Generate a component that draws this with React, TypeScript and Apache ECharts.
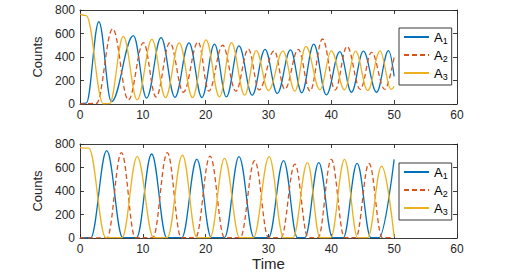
import React, { useEffect, useRef } from 'react';
import * as echarts from 'echarts';

// ---- data (extrema of each oscillation) ----
const seriesNames = ['A1', 'A2', 'A3'];
const xMin = 0;
const xMax = 60;
const xStep = 10;
const yMin = 0;
const yMax = 800;
const yStep = 200;

// Top panel
const topA1: [number, number][] = [
  [0, 3], [1.0, 8], [3.0, 700], [5.0, 20], [8.5, 582], [10.6, 50], [12.9, 565],
  [15.1, 57], [17.35, 520], [19.4, 55], [21.4, 510], [23.3, 60], [25.3, 495],
  [27.4, 75], [29.45, 465], [31.4, 90], [33.5, 460], [35.3, 95], [37.2, 510],
  [39.2, 78], [41.35, 445], [43.2, 100], [45.1, 450], [47.2, 100], [49.1, 455],
  [50, 235],
];
const topA2: [number, number][] = [
  [0, 0], [2.6, 5], [5.2, 640], [7.7, 34], [10.1, 522], [12.1, 60], [14.3, 522],
  [16.45, 100], [18.8, 528], [20.5, 110], [22.7, 500], [24.8, 110], [26.8, 468],
  [28.5, 120], [30.9, 452], [32.6, 125], [34.75, 465], [36.6, 110], [38.6, 553],
  [40.6, 120], [42.5, 490], [44.6, 125], [46.4, 440], [48.5, 125], [50, 400],
];
const topA3: [number, number][] = [
  [0, 765], [1.0, 752], [3.7, 2], [4.7, 3], [6.9, 575], [9.1, 35], [11.45, 550],
  [13.6, 55], [15.8, 520], [17.9, 55], [20.05, 545], [22.2, 60], [24.1, 522],
  [26.2, 75], [28.05, 455], [30.0, 115], [32.3, 450], [34.2, 110], [35.95, 490],
  [38.2, 120], [40.0, 452], [42.1, 120], [43.85, 450], [45.8, 115], [47.75, 452],
  [49.5, 125], [50, 150],
];

// Bottom panel
const botA1: [number, number][] = [
  [0, 0], [1.7, 2], [4.25, 743], [6.8, 3], [9.0, 3], [11.4, 715], [13.8, 3],
  [16.2, 3], [18.6, 670], [20.9, 3], [23.0, 3], [25.3, 692], [27.7, 3], [30.0, 3],
  [32.4, 658], [34.6, 3], [35.8, 3], [38.0, 641], [40.2, 3], [41.9, 3], [44.1, 635],
  [46.3, 3], [47.6, 3], [50, 669],
];
const botA2: [number, number][] = [
  [0, 0], [4.3, 2], [6.6, 726], [8.8, 3], [11.6, 3], [13.9, 726], [16.1, 3],
  [18.4, 3], [20.7, 697], [23.0, 3], [25.5, 3], [27.8, 658], [30.0, 3], [32.0, 3],
  [34.2, 629], [36.3, 3], [37.9, 3], [40.0, 669], [42.1, 3], [43.9, 3], [46.0, 635],
  [48.1, 3], [50, 3],
];
const botA3: [number, number][] = [
  [0, 770], [1.4, 765], [4.1, 3], [6.7, 3], [9.1, 692], [11.7, 3], [13.9, 3],
  [16.3, 706], [18.6, 3], [20.7, 3], [23.0, 678], [25.4, 3], [27.6, 3], [30.1, 692],
  [32.4, 3], [33.9, 3], [36.2, 641], [38.2, 3], [39.9, 3], [42.1, 669], [44.2, 3],
  [45.8, 3], [48.0, 612], [50, 10],
];

const colors = ['#0072BD', '#D95319', '#EDB120'];
const lineTypes: any[] = ['solid', [5, 3], 'solid'];
const FONT = '"Liberation Sans", Arial, Helvetica, sans-serif';
const AX = '#262626';

export default function App() {
  const ref = useRef<HTMLDivElement>(null);

  useEffect(() => {
    document.body.style.margin = '0';
    if (!ref.current) return;
    const chart = echarts.init(ref.current, undefined, { renderer: 'svg' });

    const axisLine = { show: true, onZero: false, lineStyle: { color: AX, width: 0.9 } };
    const axisTick = { show: true, inside: true, length: 4, lineStyle: { color: AX, width: 0.9 } };

    const mkX = (grid: number, pos: 'bottom' | 'top', labels: boolean, name?: string) => ({
      type: 'value',
      gridIndex: grid,
      position: pos,
      min: xMin,
      max: xMax,
      interval: xStep,
      axisLine,
      axisTick,
      splitLine: { show: false },
      axisLabel: { show: labels, color: AX, fontSize: 12, fontFamily: FONT, margin: 5 },
      name: name,
      nameLocation: 'middle',
      nameGap: 18,
      nameTextStyle: { color: AX, fontSize: 15, fontFamily: FONT },
    });
    const mkY = (grid: number, pos: 'left' | 'right', labels: boolean, name?: string) => ({
      type: 'value',
      gridIndex: grid,
      position: pos,
      min: yMin,
      max: yMax,
      interval: yStep,
      axisLine,
      axisTick,
      splitLine: { show: false },
      axisLabel: { show: labels, color: AX, fontSize: 12, fontFamily: FONT, margin: 5 },
      name: name,
      nameLocation: 'middle',
      nameGap: 34,
      nameTextStyle: { color: AX, fontSize: 13, fontFamily: FONT },
    });

    const datasets = [
      [topA1, topA2, topA3],
      [botA1, botA2, botA3],
    ];
    const series: any[] = [];
    datasets.forEach((group, gi) => {
      group.forEach((data, si) => {
        series.push({
          name: seriesNames[si],
          type: 'line',
          xAxisIndex: gi * 2,
          yAxisIndex: gi * 2,
          data,
          symbol: 'none',
          showSymbol: false,
          smooth: 0.38,
          smoothMonotone: 'x',
          lineStyle: { color: colors[si], width: 1.3, type: lineTypes[si] },
          itemStyle: { color: colors[si] },
          emphasis: { disabled: true },
          z: 2 + si,
        });
      });
    });

    const mkLegend = (top: number) => ({
      data: seriesNames,
      orient: 'vertical',
      left: 399,
      top,
      width: 51,
      itemWidth: 25,
      itemHeight: 12,
      itemGap: 2,
      padding: [1, 4, 4, 4],
      backgroundColor: '#fff',
      borderColor: '#222',
      borderWidth: 0.9,
      selectedMode: false,
      itemStyle: { opacity: 0 },
      formatter: (n: string) => `{a|${n.slice(0, 1)}}{s|${n.slice(1)}}`,
      textStyle: {
        color: '#000',
        fontFamily: FONT,
        rich: {
          a: { fontSize: 13, fontFamily: FONT, color: '#000', lineHeight: 16 },
          s: { fontSize: 9, fontFamily: FONT, color: '#000', padding: [7, 0, 0, 0], lineHeight: 16 },
        },
      },
    });

    chart.setOption({
      animation: false,
      backgroundColor: '#fff',
      grid: [
        { left: 80, top: 10, width: 377, height: 94 },
        { left: 80, top: 144, width: 377, height: 94 },
      ],
      xAxis: [
        mkX(0, 'bottom', true),
        mkX(0, 'top', false),
        mkX(1, 'bottom', true, 'Time'),
        mkX(1, 'top', false),
      ],
      yAxis: [
        mkY(0, 'left', true, 'Counts'),
        mkY(0, 'right', false),
        mkY(1, 'left', true, 'Counts'),
        mkY(1, 'right', false),
      ],
      legend: [mkLegend(28), mkLegend(163)],
      series,
    });

    return () => chart.dispose();
  }, []);

  return <div ref={ref} style={{ width: 521, height: 276, background: '#fff' }} />;
}
